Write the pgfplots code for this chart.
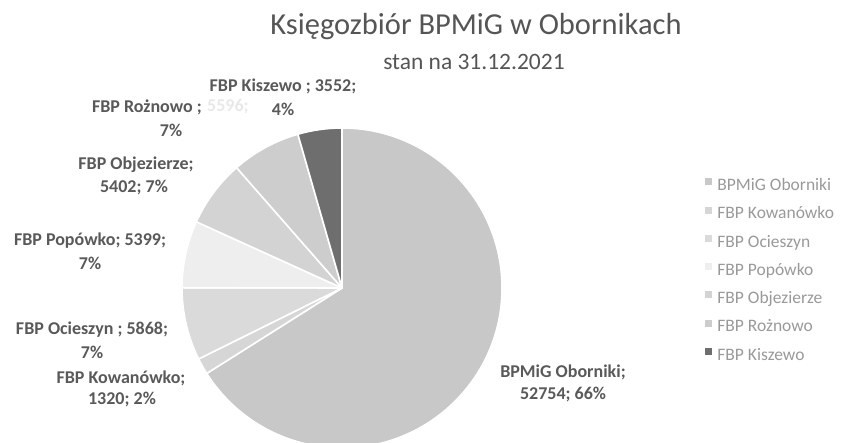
\documentclass[border=0pt]{standalone}
\usepackage{pgfplots}
\usepackage{pgfplotstable}
\pgfplotsset{compat=1.18}
\usepackage{fontspec}
\setmainfont{Carlito}

\definecolor{sA}{HTML}{C8C8C8}
\definecolor{sB}{HTML}{D6D6D6}
\definecolor{sC}{HTML}{DADADA}
\definecolor{sD}{HTML}{EEEEEE}
\definecolor{sE}{HTML}{D3D3D3}
\definecolor{sF}{HTML}{CDCDCD}
\definecolor{sG}{HTML}{6E6E6E}
\definecolor{lbl}{HTML}{595959}
\definecolor{leg}{HTML}{999999}
\definecolor{ttl}{HTML}{555555}

\pgfplotstableread{
name value col
BPMiG 52754 sA
Kowanowko 1320 sB
Ocieszyn 5868 sC
Popowko 5399 sD
Objezierze 5402 sE
Roznowo 5596 sF
Kiszewo 3552 sG
}\pietable

\begin{document}
\begin{tikzpicture}
\begin{axis}[
  hide axis, scale only axis,
  x=1pt, y=1pt,
  xmin=0, xmax=842, ymin=0, ymax=443,
  clip=true,
  legend style={at={(axis cs:705,265)}, anchor=north west, draw=none, fill=none,
    inner sep=0pt, outer sep=0pt,
    font=\fontsize{17.5}{20}\selectfont\color{leg},
    nodes={inner sep=0pt, text height=12.5pt, text depth=3.5pt},
    row sep=12.3pt, column sep=6pt,
    legend cell align=left},
]
% total
\def\total{0}
\pgfplotsforeachungrouped \i in {0,...,6}{%
  \pgfplotstablegetelem{\i}{value}\of\pietable
  \xdef\total{\fpeval{\total+\pgfplotsretval}}%
}
\def\angstart{90}
\pgfplotsforeachungrouped \i in {0,...,6}{%
  \pgfplotstablegetelem{\i}{value}\of\pietable
  \xdef\angend{\fpeval{\angstart - 360*\pgfplotsretval/\total}}%
  \pgfplotstablegetelem{\i}{col}\of\pietable
  \edef\temp{\noexpand\fill[\pgfplotsretval, draw=white, line width=1.6pt, line join=round]
    (axis cs:342,155) -- ++(\angstart:160pt) arc[start angle=\angstart, end angle=\angend, radius=160pt] -- cycle;}%
  \temp
  \xdef\angstart{\angend}%
}
\addlegendimage{legend image code/.code={\fill[sA] (0pt,1.5pt) rectangle (6pt,7.5pt);}}
\addlegendentry{BPMiG Oborniki}
\addlegendimage{legend image code/.code={\fill[sB] (0pt,1.5pt) rectangle (6pt,7.5pt);}}
\addlegendentry{FBP Kowanówko}
\addlegendimage{legend image code/.code={\fill[sC] (0pt,1.5pt) rectangle (6pt,7.5pt);}}
\addlegendentry{FBP Ocieszyn}
\addlegendimage{legend image code/.code={\fill[sD] (0pt,1.5pt) rectangle (6pt,7.5pt);}}
\addlegendentry{FBP Popówko}
\addlegendimage{legend image code/.code={\fill[sE] (0pt,1.5pt) rectangle (6pt,7.5pt);}}
\addlegendentry{FBP Objezierze}
\addlegendimage{legend image code/.code={\fill[sF] (0pt,1.5pt) rectangle (6pt,7.5pt);}}
\addlegendentry{FBP Rożnowo}
\addlegendimage{legend image code/.code={\fill[sG] (0pt,1.5pt) rectangle (6pt,7.5pt);}}
\addlegendentry{FBP Kiszewo}

% title
\node[text=ttl, font=\fontsize{30.5}{34}\selectfont] at (axis cs:476,416) {Księgozbiór BPMiG w Obornikach};
\node[text=ttl, font=\fontsize{23.5}{26}\selectfont] at (axis cs:474,381) {stan na 31.12.2021};

% data labels
\tikzset{dl/.style={text=lbl, font=\bfseries\fontsize{18}{21}\selectfont, inner sep=0pt}}
\node[dl] at (axis cs:283,357) {FBP Kiszewo ; 3552;};
\node[dl] at (axis cs:283,334) {4\%};
\node[dl, anchor=east] at (axis cs:202,336) {FBP Rożnowo ;};
\node[dl, anchor=west, text=black!9] at (axis cs:207,336) {5596;};
\node[dl] at (axis cs:171,313) {7\%};
\node[dl] at (axis cs:136,278) {FBP Objezierze;};
\node[dl] at (axis cs:134,255) {5402; 7\%};
\node[dl] at (axis cs:90,202) {FBP Popówko; 5399;};
\node[dl] at (axis cs:90,180) {7\%};
\node[dl] at (axis cs:92,113) {FBP Ocieszyn ; 5868;};
\node[dl] at (axis cs:92,91) {7\%};
\node[dl] at (axis cs:121,65) {FBP Kowanówko;};
\node[dl] at (axis cs:122,43) {1320; 2\%};
\node[dl] at (axis cs:563,71) {BPMiG Oborniki;};
\node[dl] at (axis cs:563,48) {52754; 66\%};
\end{axis}
\pgfresetboundingbox
\path[use as bounding box] (current axis.south west) rectangle (current axis.north east);
\end{tikzpicture}
\end{document}
